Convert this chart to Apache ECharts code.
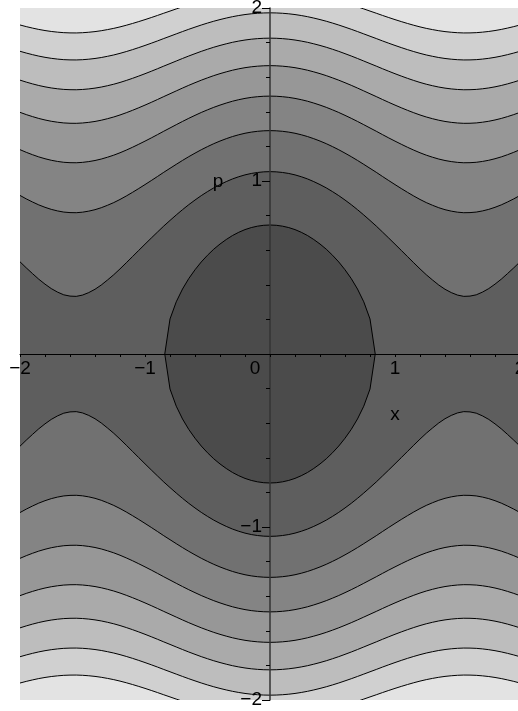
<!DOCTYPE html>
<html><head><meta charset="utf-8">
<script src="https://cdn.jsdelivr.net/npm/echarts@6/dist/echarts.min.js"></script>
<style>html,body{margin:0;padding:0;background:#fff;} #chart{width:518px;height:711px;}</style>
</head><body><div id="chart"></div>
<script>
// Potential profile V(x) (field H = p^2 + V(x)), for x >= 0 (symmetric in x)
const sampleX = [0,0.05,0.1,0.15,0.2,0.25,0.3,0.35,0.4,0.45,0.5,0.55,0.6,0.65,0.7,0.75,0.8,0.85,0.9,0.95,1.0,
  1.05,1.1,1.15,1.2,1.25,1.3,1.35,1.4,1.45,1.5,1.55,1.6,1.65,1.7,1.75,1.8,1.85,1.9,1.95,2.0];
const potential = [0,0.0025,0.010,0.022,0.039,0.061,0.087,0.118,0.152,0.189,0.230,0.273,0.319,0.366,0.415,0.465,0.515,0.564,0.614,0.662,0.708,
  0.752,0.794,0.833,0.869,0.901,0.928,0.952,0.971,0.985,0.995,1.000,0.999,0.994,0.983,0.968,0.948,0.924,0.895,0.863,0.827];
// contour levels of H
const contourLevels = [0.556,1.111,1.667,2.222,2.778,3.333,3.889,4.444];
// tick values
const xTicks = [-2,-1,0,1,2];
const yTicks = [-2,-1,1,2];
// axis names and their data positions
const axisNameText = ['x','p'];
const axisNameX = [1.0,-0.416];
const axisNameY = [-0.353,0.994];

const bandColors = ['#4b4b4b','#5e5e5e','#717171','#848484','#979797','#aaaaaa','#bdbdbd','#d0d0d0','#e3e3e3'];

const profile = [];
for (let i = sampleX.length - 1; i > 0; i--) profile.push([-sampleX[i], potential[i]]);
for (let i = 0; i < sampleX.length; i++) profile.push([sampleX[i], potential[i]]);

function upperBranch(c) {
  const pts = [];
  for (let i = 0; i < profile.length; i++) {
    const x = profile[i][0], v = profile[i][1];
    if (i > 0) {
      const x0 = profile[i-1][0], v0 = profile[i-1][1];
      if ((v0 < c) !== (v < c)) {
        const t = (c - v0) / (v - v0);
        pts.push([x0 + t * (x - x0), 0]);
      }
    }
    if (v < c) pts.push([x, Math.sqrt(c - v)]);
  }
  return pts;
}
function isClosed(c) { return !(profile[0][1] < c); }

const levelIdx = contourLevels.map((c, i) => i).reverse();

const fmt = v => String(v).replace('-', '\u2212');
const FONT = 'Liberation Sans, Arial, sans-serif';
const FS = 19;

const chart = echarts.init(document.getElementById('chart'), null, {renderer: 'canvas'});
chart.setOption({
  animation: false,
  backgroundColor: '#ffffff',
  grid: {left: 20, top: 8, width: 500, height: 692, show: true, backgroundColor: bandColors[8], borderWidth: 0, containLabel: false, outerBoundsMode: 'none'},
  xAxis: {
    type: 'value', min: -2, max: 2, interval: 1, z: 10, position: 'bottom', offset: -346,
    axisLine: {onZero: false, lineStyle: {color: '#000', width: 1}},
    axisTick: {show: true, inside: false, length: 3, lineStyle: {color: '#000'}},
    minorTick: {show: true, splitNumber: 5, length: 3, lineStyle: {color: '#000'}},
    splitLine: {show: false}, minorSplitLine: {show: false},
    axisLabel: {
      show: true, margin: 5, fontSize: FS, color: '#000', fontFamily: FONT,
      showMinLabel: true, showMaxLabel: true, hideOverlap: false,
      formatter: v => xTicks.indexOf(v) < 0 ? '' : (v === 0 ? '{zero|0}' : fmt(v)),
      rich: {zero: {fontSize: FS, color: '#000', fontFamily: FONT, padding: [0, 30, 0, 0]}}
    }
  },
  yAxis: {
    type: 'value', min: -2, max: 2, interval: 1, z: 10, position: 'left', offset: -250,
    axisLine: {onZero: false, lineStyle: {color: '#333', width: 1.5}},
    axisTick: {show: true, inside: false, length: 8, lineStyle: {color: '#000'}},
    minorTick: {show: true, splitNumber: 5, length: 4, lineStyle: {color: '#000'}},
    splitLine: {show: false}, minorSplitLine: {show: false},
    axisLabel: {
      show: true, margin: 8, fontSize: FS, color: '#000', fontFamily: FONT,
      showMinLabel: true, showMaxLabel: true, hideOverlap: false,
      formatter: v => yTicks.indexOf(v) < 0 ? '' : fmt(v)
    }
  },
  series: [
    {
      type: 'custom', name: 'bands', coordinateSystem: 'cartesian2d', clip: true, z: 1, silent: true,
      data: levelIdx.map(k => [k, 0]),
      renderItem: function (params, api) {
        const k = levelIdx[params.dataIndex];
        const c = contourLevels[k];
        const up = upperBranch(c);
        const low = up.slice().reverse().map(p => [p[0], -p[1]]);
        const pts = up.concat(low).map(p => api.coord(p));
        return {type: 'polygon', shape: {points: pts}, style: {fill: bandColors[k], stroke: null}, z2: params.dataIndex};
      }
    },
    {
      type: 'custom', name: 'lines', coordinateSystem: 'cartesian2d', clip: true, z: 2, silent: true,
      data: levelIdx.map(k => [k, 0]),
      renderItem: function (params, api) {
        const k = levelIdx[params.dataIndex];
        const c = contourLevels[k];
        const up = upperBranch(c);
        const low = up.map(p => [p[0], -p[1]]);
        const style = {fill: null, stroke: '#000', lineWidth: 1};
        if (isClosed(c)) {
          const pts = up.concat(low.slice().reverse()).map(p => api.coord(p));
          return {type: 'polygon', shape: {points: pts}, style: style};
        }
        return {type: 'group', children: [
          {type: 'polyline', shape: {points: up.map(p => api.coord(p))}, style: style},
          {type: 'polyline', shape: {points: low.map(p => api.coord(p))}, style: style}
        ]};
      }
    },
    {
      type: 'custom', name: 'axisNames', coordinateSystem: 'cartesian2d', clip: false, z: 12, silent: true,
      data: axisNameText.map((t, i) => [axisNameX[i], axisNameY[i]]),
      renderItem: function (params, api) {
        const pt = api.coord([api.value(0), api.value(1)]);
        return {type: 'text', x: pt[0], y: pt[1], style: {text: axisNameText[params.dataIndex], fontSize: FS, fontFamily: FONT, fill: '#000', align: 'center', verticalAlign: 'middle'}};
      }
    }
  ]
});
</script></body></html>
